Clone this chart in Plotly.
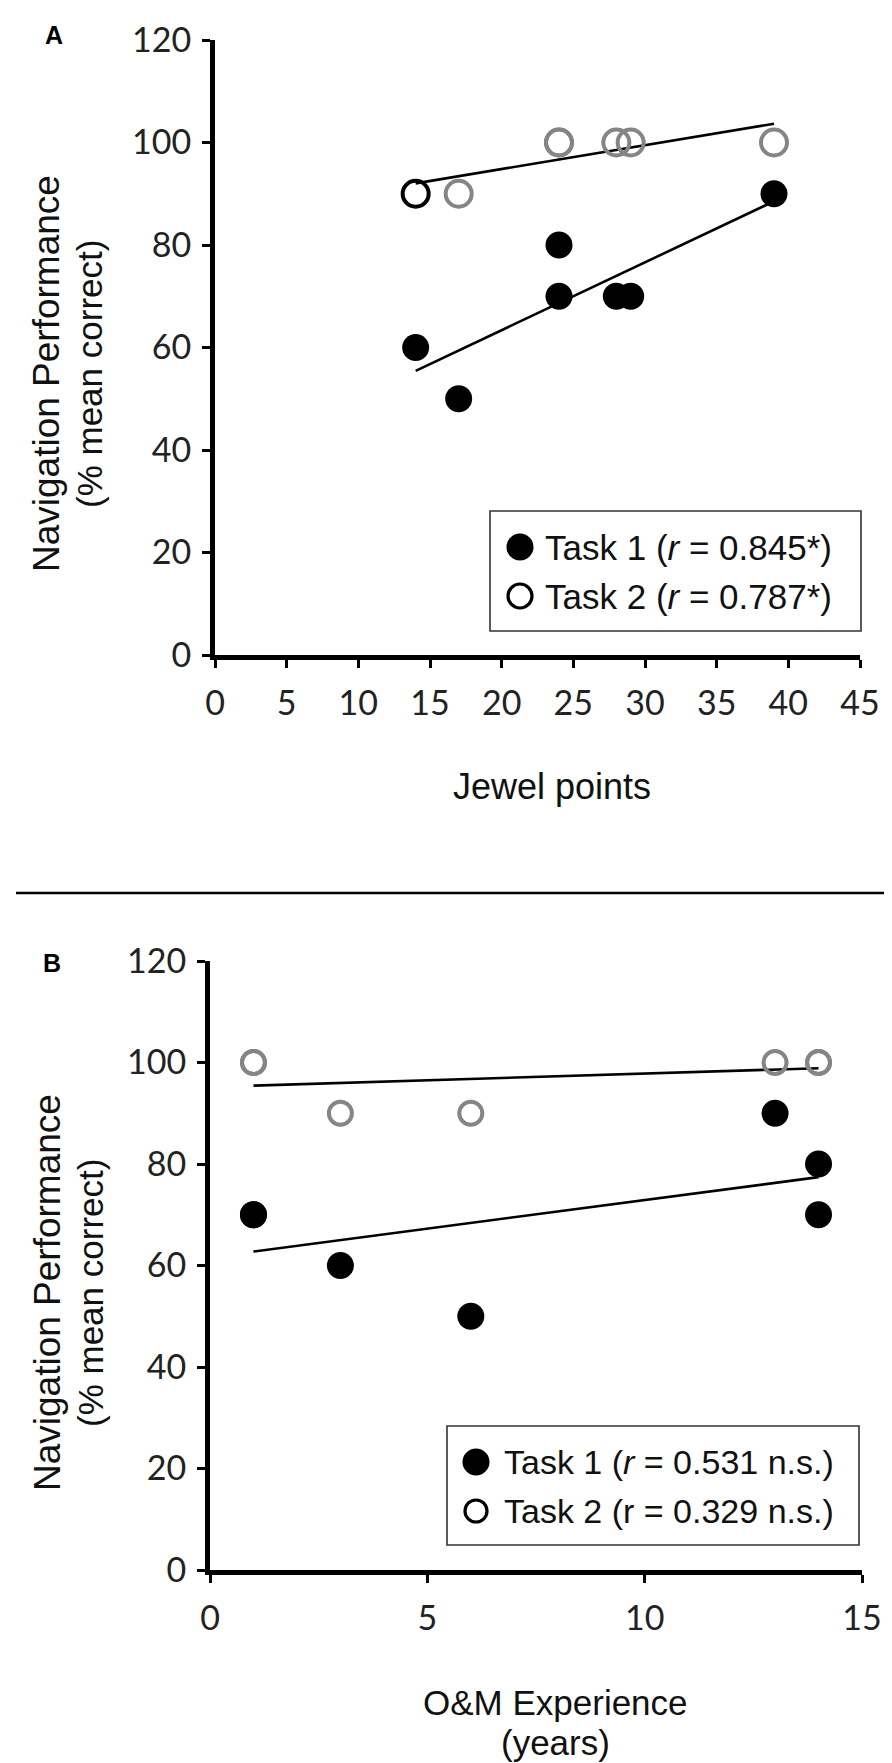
import numpy as np
import plotly.graph_objects as go

W, H = 892, 1763

# ---------------- data ----------------
# Panel A: Jewel points vs navigation performance (% mean correct)
jewel_task1 = [14, 17, 24, 24, 28, 29, 39]
perf_a_task1 = [60, 50, 80, 70, 70, 70, 90]
jewel_task2 = [14, 17, 24, 24, 28, 29, 39]
perf_a_task2 = [90, 90, 100, 100, 100, 100, 100]

# Panel B: O&M experience (years) vs navigation performance
om_task1 = [1, 1, 3, 6, 13, 14, 14]
perf_b_task1 = [70, 70, 60, 50, 90, 80, 70]
om_task2 = [1, 1, 3, 6, 13, 14, 14]
perf_b_task2 = [100, 100, 90, 90, 100, 100, 100]

legend_a = ["Task 1 (<i>r</i> = 0.845*)", "Task 2 (<i>r</i> = 0.787*)"]
legend_b = ["Task 1 (<i>r</i> = 0.531 n.s.)", "Task 2 (r = 0.329 n.s.)"]

x_ticks_a = [0, 5, 10, 15, 20, 25, 30, 35, 40, 45]
x_ticks_b = [0, 5, 10, 15]
y_ticks = [0, 20, 40, 60, 80, 100, 120]


def px(x):
    return x / W


def py(y):
    return 1 - y / H


def fit_line(x, y):
    b, a = np.polyfit(x, y, 1)
    xs = np.array([min(x), max(x)], dtype=float)
    return xs, a + b * xs


fig = go.Figure()
GREY = "#858585"

# Panel A
for xs, ys in [fit_line(jewel_task1, perf_a_task1), fit_line(jewel_task2, perf_a_task2)]:
    fig.add_trace(go.Scatter(x=xs, y=ys, mode="lines", line=dict(color="black", width=2.6),
                             xaxis="x", yaxis="y", showlegend=False, hoverinfo="skip"))
fig.add_trace(go.Scatter(x=jewel_task1, y=perf_a_task1, mode="markers", name="Task 1",
                         marker=dict(symbol="circle", size=27, color="black", line=dict(width=0)),
                         xaxis="x", yaxis="y", showlegend=False))
fig.add_trace(go.Scatter(x=jewel_task2, y=perf_a_task2, mode="markers", name="Task 2",
                         marker=dict(symbol="circle", size=26, color="rgba(0,0,0,0)",
                                     line=dict(width=4, color=["black"] + [GREY] * 6)),
                         xaxis="x", yaxis="y", showlegend=False))

# Panel B
for xs, ys in [fit_line(om_task1, perf_b_task1), fit_line(om_task2, perf_b_task2)]:
    fig.add_trace(go.Scatter(x=xs, y=ys, mode="lines", line=dict(color="black", width=2.6),
                             xaxis="x2", yaxis="y2", showlegend=False, hoverinfo="skip"))
fig.add_trace(go.Scatter(x=om_task1, y=perf_b_task1, mode="markers", name="Task 1",
                         marker=dict(symbol="circle", size=27, color="black", line=dict(width=0)),
                         xaxis="x2", yaxis="y2", showlegend=False))
fig.add_trace(go.Scatter(x=om_task2, y=perf_b_task2, mode="markers", name="Task 2",
                         marker=dict(symbol="circle", size=23, color="rgba(0,0,0,0)",
                                     line=dict(width=4, color=GREY)),
                         xaxis="x2", yaxis="y2", showlegend=False))

tickfont = dict(family="Lato", size=34, color="#222222")
common_x = dict(showline=True, linewidth=5, linecolor="black", ticks="outside", ticklen=8,
                tickwidth=2.5, tickcolor="black", tickfont=tickfont, showgrid=False,
                zeroline=False, fixedrange=True, ticklabelstandoff=6, automargin=False)
common_y = dict(showline=True, linewidth=5, linecolor="black", ticks="outside", ticklen=8,
                tickwidth=2.5, tickcolor="black", tickfont=tickfont, showgrid=False,
                zeroline=False, fixedrange=True, ticklabelstandoff=4, automargin=False,
                range=[0, 120], tickvals=y_ticks)

fig.update_layout(
    width=W, height=H,
    margin=dict(l=0, r=0, t=0, b=0, autoexpand=False),
    paper_bgcolor="white", plot_bgcolor="white",
    showlegend=False,
    xaxis=dict(domain=[px(207), px(852)], range=[0, 45], tickvals=x_ticks_a, anchor="y", **common_x),
    yaxis=dict(domain=[py(647), py(32)], anchor="x", **common_y),
    xaxis2=dict(domain=[px(202), px(854)], range=[0, 15], tickvals=x_ticks_b, anchor="y2", **common_x),
    yaxis2=dict(domain=[py(1562), py(953)], anchor="x2", **common_y),
)

shapes = []
annotations = []

# separator line between panels
shapes.append(dict(type="line", xref="paper", yref="paper", x0=px(8), x1=px(877), y0=py(885), y1=py(885),
                   line=dict(color="black", width=2.5)))


def add_legend(box, rows_y, marker_x, text_x, labels, filled_d, open_d, open_w, fontsize):
    x0, x1, y0, y1 = box
    shapes.append(dict(type="rect", xref="paper", yref="paper", x0=px(x0), x1=px(x1), y0=py(y1), y1=py(y0),
                       line=dict(color="#333333", width=1.6), fillcolor="white", layer="above"))
    r = filled_d / 2
    shapes.append(dict(type="circle", xref="paper", yref="paper",
                       x0=px(marker_x - r), x1=px(marker_x + r), y0=py(rows_y[0] + r), y1=py(rows_y[0] - r),
                       fillcolor="black", line=dict(color="black", width=0), layer="above"))
    r = open_d / 2
    shapes.append(dict(type="circle", xref="paper", yref="paper",
                       x0=px(marker_x - r), x1=px(marker_x + r), y0=py(rows_y[1] + r), y1=py(rows_y[1] - r),
                       fillcolor="white", line=dict(color="black", width=open_w), layer="above"))
    for lab, yy in zip(labels, rows_y):
        annotations.append(dict(text=lab, xref="paper", yref="paper", x=px(text_x), y=py(yy),
                                xanchor="left", yanchor="middle", showarrow=False,
                                font=dict(family="Liberation Sans", size=fontsize, color="#111111")))


add_legend((482, 853, 503, 623), (539, 588), 512, 535, legend_a, 27, 24, 3.2, 35)
add_legend((439, 851, 1418, 1537), (1454, 1503), 468, 494, legend_b, 27, 22, 3.2, 34)

# panel letters
annotations.append(dict(text="<b>A</b>", xref="paper", yref="paper", x=px(46), y=py(27), xanchor="center",
                        yanchor="middle", showarrow=False, font=dict(family="Liberation Sans", size=25, color="black")))
annotations.append(dict(text="<b>B</b>", xref="paper", yref="paper", x=px(44), y=py(955), xanchor="center",
                        yanchor="middle", showarrow=False, font=dict(family="Liberation Sans", size=25, color="black")))

# y-axis titles (two lines each)
for cy in (366, 1285):
    annotations.append(dict(text="Navigation Performance", xref="paper", yref="paper", x=px(39), y=py(cy),
                            xanchor="center", yanchor="middle", textangle=-90, showarrow=False,
                            font=dict(family="Liberation Sans", size=37, color="#111111")))
    annotations.append(dict(text="(% mean correct)", xref="paper", yref="paper", x=px(82), y=py(cy),
                            xanchor="center", yanchor="middle", textangle=-90, showarrow=False,
                            font=dict(family="Liberation Sans", size=35, color="#111111")))

# x-axis titles
annotations.append(dict(text="Jewel points", xref="paper", yref="paper", x=px(544), y=py(778),
                        xanchor="center", yanchor="middle", showarrow=False,
                        font=dict(family="Liberation Sans", size=36, color="#111111")))
annotations.append(dict(text="O&M Experience", xref="paper", yref="paper", x=px(547), y=py(1694),
                        xanchor="center", yanchor="middle", showarrow=False,
                        font=dict(family="Liberation Sans", size=35, color="#111111")))
annotations.append(dict(text="(years)", xref="paper", yref="paper", x=px(547), y=py(1734),
                        xanchor="center", yanchor="middle", showarrow=False,
                        font=dict(family="Liberation Sans", size=35, color="#111111")))

fig.update_layout(shapes=shapes, annotations=annotations)
fig.write_html("out.html")
